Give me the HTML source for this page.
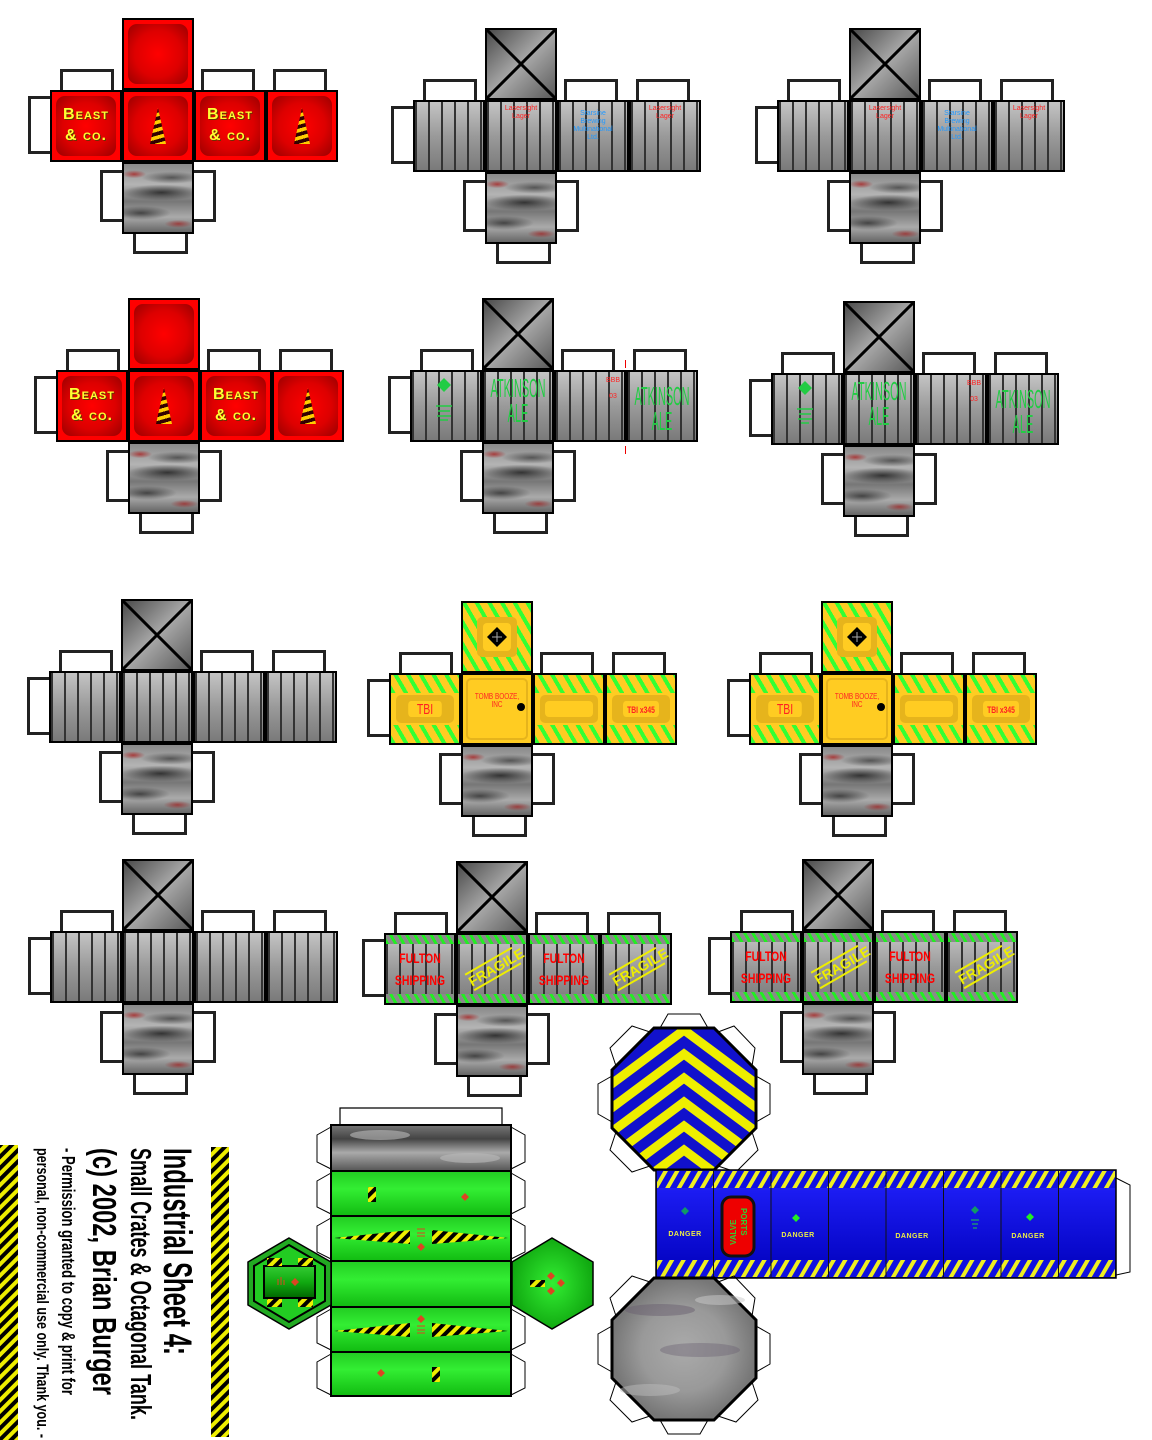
<!DOCTYPE html>
<html><head><meta charset="utf-8">
<style>
html,body{margin:0;padding:0;background:#fff}
body{width:1152px;height:1440px;position:relative;overflow:hidden;font-family:"Liberation Sans",sans-serif}
.c{position:absolute;width:288px;height:72px}
.c>*{position:absolute;box-sizing:border-box;display:block}
.f{width:72px;height:72px;border:2px solid #000;overflow:hidden}
.tt{top:-21px;width:54px;height:23px;border:3px solid #222;border-bottom:none}
.t1{left:10px}.t2{left:151px}.t3{left:223px}
.tl{left:-22px;top:6px;width:24px;height:58px;border:3px solid #222;border-right:none}
.bl{left:50px;top:80px;width:24px;height:52px;border:3px solid #222;border-right:none}
.br{left:142px;top:80px;width:24px;height:52px;border:3px solid #222;border-left:none}
.bb{left:83px;top:142px;width:55px;height:22px;border:3px solid #222;border-top:none}
.p0{left:0;top:0}.p1{left:72px;top:0}.p2{left:144px;top:0}.p3{left:216px;top:0}
.top{left:72px;top:-72px}.bot{left:72px;top:72px}
.rd{background:#f00}
.in{position:absolute;left:4px;top:4px;right:4px;bottom:4px;border-radius:9px;background:radial-gradient(circle,#f00 0,#d00 55%,#900 100%)}
.bt{position:absolute;left:0;right:0;top:12px;text-align:center;color:#ff3;font-weight:bold;font-size:16px;line-height:21px;font-variant:small-caps;letter-spacing:1px;text-shadow:1px 1px 0 #630}
.pl{background:repeating-linear-gradient(90deg,#333 0 2px,transparent 2px 13px),linear-gradient(180deg,#c4c4c4,#9a9a9a 50%,#7a7a7a)}
.x{background:linear-gradient(135deg,#4a4a4a,#a8a8a8 50%,#5a5a5a)}
.mt{background:radial-gradient(ellipse 12px 4px at 15% 15%,rgba(170,20,20,.7),transparent),radial-gradient(ellipse 40px 8px at 55% 42%,#333,transparent),radial-gradient(ellipse 30px 7px at 25% 72%,#444,transparent),radial-gradient(ellipse 14px 4px at 80% 88%,rgba(160,30,30,.7),transparent),radial-gradient(ellipse 30px 6px at 70% 20%,#555,transparent),linear-gradient(180deg,#8a8a8a,#b4b4b4 30%,#777 55%,#aaa 78%,#666)}
.ty{background:repeating-linear-gradient(60deg,#3f3 0 4px,transparent 4px 11px) top/100% 18px no-repeat,repeating-linear-gradient(60deg,#3f3 0 4px,transparent 4px 11px) bottom/100% 18px no-repeat,#fc2}
.tyf{background:repeating-linear-gradient(60deg,#3f3 0 4px,#fc2 4px 11px)}
.ti{position:absolute;left:5px;right:5px;top:20px;bottom:20px;background:#e6b41c;border-radius:5px}
.tj{position:absolute;left:10px;right:10px;top:26px;bottom:26px;background:#fc2;border-radius:4px;color:#f22;text-align:center;font-size:10px;line-height:18px;font-weight:bold}
.fu{background:repeating-linear-gradient(60deg,#2e2 0 3px,#8a8a8a 3px 7px) top/100% 9px no-repeat,repeating-linear-gradient(60deg,#2e2 0 3px,#8a8a8a 3px 7px) bottom/100% 9px no-repeat,repeating-linear-gradient(90deg,#333 0 2px,transparent 2px 13px),linear-gradient(180deg,#c4c4c4,#9a9a9a 50%,#7a7a7a)}
.ful{position:absolute;left:-10px;right:-10px;top:12px;text-align:center;color:#f00;font-weight:bold;font-size:14px;line-height:22px;transform:scaleX(.75)}
.fr{position:absolute;left:8px;top:24px;width:54px;text-align:center;color:#ee0;font-weight:bold;font-size:14px;line-height:16px;border-top:2px solid #ee0;border-bottom:2px solid #ee0;transform:rotate(-30deg)}
.atk{position:absolute;left:-40px;right:-40px;top:4px;text-align:center;color:#2c4;font-size:26px;line-height:25px;transform:scaleX(.42)}
.sm{position:absolute;font-size:7px;line-height:8px;text-align:center;left:0;right:0}
svg.o{position:absolute;left:0;top:0}
</style></head><body>
<svg width="0" height="0" style="position:absolute">
<defs>
<linearGradient id="cs" gradientUnits="userSpaceOnUse" x1="0" y1="0" x2="2" y2="7" spreadMethod="repeat"><stop offset="0" stop-color="#fc0"/><stop offset=".5" stop-color="#fc0"/><stop offset=".5" stop-color="#300"/><stop offset="1" stop-color="#300"/></linearGradient>
</defs></svg>

<!-- Row 1 -->
<div class="c" style="left:50px;top:90px">
<i class="tt t1"></i><i class="tt t2"></i><i class="tt t3"></i><i class="tl"></i><i class="bl"></i><i class="br"></i><i class="bb"></i>
<div class="f top rd"><b class="in"></b></div>
<div class="f p0 rd"><b class="in"></b><span class="bt">Beast<br>&amp; co.</span></div>
<div class="f p1 rd"><b class="in"></b><svg class="o" width="68" height="68"><polygon points="34,16 26,52 42,52" fill="url(#cs)"/></svg></div>
<div class="f p2 rd"><b class="in"></b><span class="bt">Beast<br>&amp; co.</span></div>
<div class="f p3 rd"><b class="in"></b><svg class="o" width="68" height="68"><polygon points="34,16 26,52 42,52" fill="url(#cs)"/></svg></div>
<div class="f bot mt"></div>
</div>

<div class="c" style="left:413px;top:100px">
<i class="tt t1"></i><i class="tt t2"></i><i class="tt t3"></i><i class="tl"></i><i class="bl"></i><i class="br"></i><i class="bb"></i>
<div class="f top x"><svg class="o" width="68" height="68"><path d="M0 0L68 68M68 0L0 68" stroke="#000" stroke-width="3"/></svg></div>
<div class="f p0 pl"></div>
<div class="f p1 pl"><span class="sm" style="top:3px;color:#f22">Lasersight<br>Lager</span></div>
<div class="f p2 pl"><span class="sm" style="top:8px;color:#29f">Starsine<br>Brewing<br>Multinational<br>Ltd.</span></div>
<div class="f p3 pl"><span class="sm" style="top:3px;color:#f22">Lasersight<br>Lager</span></div>
<div class="f bot mt"></div>
</div>

<div class="c" style="left:777px;top:100px">
<i class="tt t1"></i><i class="tt t2"></i><i class="tt t3"></i><i class="tl"></i><i class="bl"></i><i class="br"></i><i class="bb"></i>
<div class="f top x"><svg class="o" width="68" height="68"><path d="M0 0L68 68M68 0L0 68" stroke="#000" stroke-width="3"/></svg></div>
<div class="f p0 pl"></div>
<div class="f p1 pl"><span class="sm" style="top:3px;color:#f22">Lasersight<br>Lager</span></div>
<div class="f p2 pl"><span class="sm" style="top:8px;color:#29f">Starsine<br>Brewing<br>Multinational<br>Ltd.</span></div>
<div class="f p3 pl"><span class="sm" style="top:3px;color:#f22">Lasersight<br>Lager</span></div>
<div class="f bot mt"></div>
</div>

<!-- Row 2 -->
<div class="c" style="left:56px;top:370px">
<i class="tt t1"></i><i class="tt t2"></i><i class="tt t3"></i><i class="tl"></i><i class="bl"></i><i class="br"></i><i class="bb"></i>
<div class="f top rd"><b class="in"></b></div>
<div class="f p0 rd"><b class="in"></b><span class="bt">Beast<br>&amp; co.</span></div>
<div class="f p1 rd"><b class="in"></b><svg class="o" width="68" height="68"><polygon points="34,16 26,52 42,52" fill="url(#cs)"/></svg></div>
<div class="f p2 rd"><b class="in"></b><span class="bt">Beast<br>&amp; co.</span></div>
<div class="f p3 rd"><b class="in"></b><svg class="o" width="68" height="68"><polygon points="34,16 26,52 42,52" fill="url(#cs)"/></svg></div>
<div class="f bot mt"></div>
</div>

<div class="c" style="left:410px;top:370px">
<i class="tt t1"></i><i class="tt t2"></i><i class="tt t3"></i><i class="tl"></i><i class="bl"></i><i class="br"></i><i class="bb"></i>
<div class="f top x"><svg class="o" width="68" height="68"><path d="M0 0L68 68M68 0L0 68" stroke="#000" stroke-width="3"/></svg></div>
<div class="f p0 pl"><svg class="o" width="68" height="68"><polygon points="32,6 39,13 32,20 25,13" fill="#2c4"/><path d="M24 34h16M26 39h12M25 44h14M28 48h8" stroke="#2c4" stroke-width="1.5"/></svg></div>
<div class="f p1 pl"><span class="atk">ATKINSON<br>ALE</span></div>
<div class="f p2 pl"><span class="sm" style="left:50px;right:auto;top:5px;color:#f22">BBB<br><br>03</span></div>
<div class="f p3 pl"><span class="atk" style="top:12px">ATKINSON<br>ALE</span></div>
<div class="f bot mt"></div>
<i style="left:215px;top:-10px;width:1px;height:8px;background:#e00"></i>
<i style="left:215px;top:76px;width:1px;height:8px;background:#e00"></i>
</div>

<div class="c" style="left:771px;top:373px">
<i class="tt t1"></i><i class="tt t2"></i><i class="tt t3"></i><i class="tl"></i><i class="bl"></i><i class="br"></i><i class="bb"></i>
<div class="f top x"><svg class="o" width="68" height="68"><path d="M0 0L68 68M68 0L0 68" stroke="#000" stroke-width="3"/></svg></div>
<div class="f p0 pl"><svg class="o" width="68" height="68"><polygon points="32,6 39,13 32,20 25,13" fill="#2c4"/><path d="M24 34h16M26 39h12M25 44h14M28 48h8" stroke="#2c4" stroke-width="1.5"/></svg></div>
<div class="f p1 pl"><span class="atk">ATKINSON<br>ALE</span></div>
<div class="f p2 pl"><span class="sm" style="left:50px;right:auto;top:5px;color:#f22">BBB<br><br>03</span></div>
<div class="f p3 pl"><span class="atk" style="top:12px">ATKINSON<br>ALE</span></div>
<div class="f bot mt"></div>
</div>

<!-- Row 3 -->
<div class="c" style="left:49px;top:671px">
<i class="tt t1"></i><i class="tt t2"></i><i class="tt t3"></i><i class="tl"></i><i class="bl"></i><i class="br"></i><i class="bb"></i>
<div class="f top x"><svg class="o" width="68" height="68"><path d="M0 0L68 68M68 0L0 68" stroke="#000" stroke-width="3"/></svg></div>
<div class="f p0 pl"></div><div class="f p1 pl"></div><div class="f p2 pl"></div><div class="f p3 pl"></div>
<div class="f bot mt"></div>
</div>

<div class="c" style="left:389px;top:673px">
<i class="tt t1"></i><i class="tt t2"></i><i class="tt t3"></i><i class="tl"></i><i class="bl"></i><i class="br"></i><i class="bb"></i>
<div class="f top tyf"><b style="position:absolute;left:14px;top:14px;width:40px;height:40px;background:#e6b41c;border-radius:5px"></b><b style="position:absolute;left:20px;top:20px;width:28px;height:28px;background:#fc2;border-radius:4px"></b><svg class="o" width="68" height="68"><polygon points="34,24 44,34 34,44 24,34" fill="#000"/><path d="M34 29v10M29 34h10" stroke="#aaa" stroke-width="1"/></svg></div>
<div class="f p0 ty"><b class="ti"></b><span class="tj" style="font-size:15px;font-weight:normal;transform:scaleX(.7)">TBI</span></div>
<div class="f p1" style="background:#fc2"><b style="position:absolute;left:3px;top:3px;right:3px;bottom:3px;border:2px solid #e6b41c;border-radius:5px"></b><span class="sm" style="top:18px;color:#f22;font-size:8px;transform:scaleX(.8)">TOMB BOOZE, INC</span><b style="position:absolute;left:54px;top:28px;width:8px;height:8px;border-radius:50%;background:#000"></b></div>
<div class="f p2 ty"><b class="ti"></b><span class="tj"></span></div>
<div class="f p3 ty"><b class="ti"></b><span class="tj" style="font-size:9px;transform:scaleX(.75)">TBI x345</span></div>
<div class="f bot mt"></div>
</div>

<div class="c" style="left:749px;top:673px">
<i class="tt t1"></i><i class="tt t2"></i><i class="tt t3"></i><i class="tl"></i><i class="bl"></i><i class="br"></i><i class="bb"></i>
<div class="f top tyf"><b style="position:absolute;left:14px;top:14px;width:40px;height:40px;background:#e6b41c;border-radius:5px"></b><b style="position:absolute;left:20px;top:20px;width:28px;height:28px;background:#fc2;border-radius:4px"></b><svg class="o" width="68" height="68"><polygon points="34,24 44,34 34,44 24,34" fill="#000"/><path d="M34 29v10M29 34h10" stroke="#aaa" stroke-width="1"/></svg></div>
<div class="f p0 ty"><b class="ti"></b><span class="tj" style="font-size:15px;font-weight:normal;transform:scaleX(.7)">TBI</span></div>
<div class="f p1" style="background:#fc2"><b style="position:absolute;left:3px;top:3px;right:3px;bottom:3px;border:2px solid #e6b41c;border-radius:5px"></b><span class="sm" style="top:18px;color:#f22;font-size:8px;transform:scaleX(.8)">TOMB BOOZE, INC</span><b style="position:absolute;left:54px;top:28px;width:8px;height:8px;border-radius:50%;background:#000"></b></div>
<div class="f p2 ty"><b class="ti"></b><span class="tj"></span></div>
<div class="f p3 ty"><b class="ti"></b><span class="tj" style="font-size:9px;transform:scaleX(.75)">TBI x345</span></div>
<div class="f bot mt"></div>
</div>

<!-- Row 4 -->
<div class="c" style="left:50px;top:931px">
<i class="tt t1"></i><i class="tt t2"></i><i class="tt t3"></i><i class="tl"></i><i class="bl"></i><i class="br"></i><i class="bb"></i>
<div class="f top x"><svg class="o" width="68" height="68"><path d="M0 0L68 68M68 0L0 68" stroke="#000" stroke-width="3"/></svg></div>
<div class="f p0 pl"></div><div class="f p1 pl"></div><div class="f p2 pl"></div><div class="f p3 pl"></div>
<div class="f bot mt"></div>
</div>

<div class="c" style="left:384px;top:933px">
<i class="tt t1"></i><i class="tt t2"></i><i class="tt t3"></i><i class="tl"></i><i class="bl"></i><i class="br"></i><i class="bb"></i>
<div class="f top x"><svg class="o" width="68" height="68"><path d="M0 0L68 68M68 0L0 68" stroke="#000" stroke-width="3"/></svg></div>
<div class="f p0 fu"><span class="ful">FULTON<br>SHIPPING</span></div>
<div class="f p1 fu"><span class="fr">FRAGILE</span></div>
<div class="f p2 fu"><span class="ful">FULTON<br>SHIPPING</span></div>
<div class="f p3 fu"><span class="fr">FRAGILE</span></div>
<div class="f bot mt"></div>
</div>

<div class="c" style="left:730px;top:931px">
<i class="tt t1"></i><i class="tt t2"></i><i class="tt t3"></i><i class="tl"></i><i class="bl"></i><i class="br"></i><i class="bb"></i>
<div class="f top x"><svg class="o" width="68" height="68"><path d="M0 0L68 68M68 0L0 68" stroke="#000" stroke-width="3"/></svg></div>
<div class="f p0 fu"><span class="ful">FULTON<br>SHIPPING</span></div>
<div class="f p1 fu"><span class="fr">FRAGILE</span></div>
<div class="f p2 fu"><span class="ful">FULTON<br>SHIPPING</span></div>
<div class="f p3 fu"><span class="fr">FRAGILE</span></div>
<div class="f bot mt"></div>
</div>

<!-- Bottom section -->
<svg class="o" width="1152" height="1440" style="pointer-events:none">
<defs>
<pattern id="hz" width="8" height="8" patternUnits="userSpaceOnUse" patternTransform="rotate(45)"><rect width="8" height="8" fill="#ee0"/><rect width="4" height="8" fill="#000"/></pattern>
<pattern id="hzb" width="10" height="10" patternUnits="userSpaceOnUse" patternTransform="rotate(30)"><rect width="10" height="10" fill="#1010e0"/><rect width="4" height="10" fill="#ee2"/></pattern>
<linearGradient id="gr" x1="0" y1="0" x2="0" y2="1"><stop offset="0" stop-color="#2c2"/><stop offset=".4" stop-color="#3e3"/><stop offset="1" stop-color="#1b1"/></linearGradient>
<linearGradient id="gy" x1="0" y1="0" x2="0" y2="1"><stop offset="0" stop-color="#777"/><stop offset=".3" stop-color="#444"/><stop offset=".6" stop-color="#aaa"/><stop offset="1" stop-color="#555"/></linearGradient>
<linearGradient id="bl" x1="0" y1="0" x2="0" y2="1"><stop offset="0" stop-color="#22f"/><stop offset="1" stop-color="#00b"/></linearGradient>
<radialGradient id="gh"><stop offset="0" stop-color="#3e3"/><stop offset="1" stop-color="#1a1"/></radialGradient>
<linearGradient id="gi" x1="0" y1="0" x2="0" y2="1"><stop offset="0" stop-color="#3c3"/><stop offset=".5" stop-color="#1a1"/><stop offset="1" stop-color="#060"/></linearGradient>
<radialGradient id="oc"><stop offset="0" stop-color="#aaa"/><stop offset=".6" stop-color="#999"/><stop offset="1" stop-color="#777"/></radialGradient>
<clipPath id="oct"><polygon points="654,1028 714,1028 756,1070 756,1128 714,1170 654,1170 612,1128 612,1070"/></clipPath>
</defs>

<rect x="0" y="1145" width="18" height="295" fill="url(#hz)"/>
<rect x="211" y="1147" width="18" height="290" fill="url(#hz)"/>
<g font-family="Liberation Sans Narrow, Liberation Sans, sans-serif" font-weight="bold" fill="#000">
<text transform="translate(164,1148) rotate(90)" font-size="40" textLength="207" lengthAdjust="spacingAndGlyphs">Industrial Sheet 4:</text>
<text transform="translate(131,1148) rotate(90)" font-size="29" textLength="272" lengthAdjust="spacingAndGlyphs">Small Crates &amp; Octagonal Tank.</text>
<text transform="translate(93,1148) rotate(90)" font-size="33" textLength="247" lengthAdjust="spacingAndGlyphs">(c) 2002, Brian Burger</text>
<text transform="translate(62,1148) rotate(90)" font-size="18" textLength="247" lengthAdjust="spacingAndGlyphs">- Permission granted to copy &amp; print for</text>
<text transform="translate(37,1148) rotate(90)" font-size="17" textLength="290" lengthAdjust="spacingAndGlyphs">personal, non-commercial use only. Thank you. -</text>
</g>

<polyline points="340,1125 340,1108 502,1108 502,1125" fill="none" stroke="#000" stroke-width="1.2"/>
<g fill="none" stroke="#000" stroke-width="1">
<polyline points="331,1127 317,1135 317,1162 331,1169"/><polyline points="511,1127 525,1135 525,1162 511,1169"/>
<polyline points="331,1173 317,1181 317,1207 331,1214"/><polyline points="511,1173 525,1181 525,1207 511,1214"/>
<polyline points="331,1218 317,1226 317,1252 331,1259"/><polyline points="511,1218 525,1226 525,1252 511,1259"/>
<polyline points="331,1309 317,1317 317,1343 331,1350"/><polyline points="511,1309 525,1317 525,1343 511,1350"/>
<polyline points="331,1354 317,1362 317,1388 331,1395"/><polyline points="511,1354 525,1362 525,1388 511,1395"/>
</g>
<rect x="331" y="1125" width="180" height="46" fill="url(#gy)" stroke="#000" stroke-width="2"/>
<ellipse cx="380" cy="1135" rx="30" ry="5" fill="#bbb" opacity=".6"/><ellipse cx="470" cy="1158" rx="30" ry="5" fill="#bbb" opacity=".6"/>
<rect x="331" y="1171" width="180" height="45" fill="url(#gr)" stroke="#000" stroke-width="2"/>
<rect x="331" y="1216" width="180" height="45" fill="url(#gr)" stroke="#000" stroke-width="2"/>
<rect x="331" y="1261" width="180" height="46" fill="url(#gr)" stroke="#000" stroke-width="2"/>
<rect x="331" y="1307" width="180" height="45" fill="url(#gr)" stroke="#000" stroke-width="2"/>
<rect x="331" y="1352" width="180" height="44" fill="url(#gr)" stroke="#000" stroke-width="2"/>
<rect x="368" y="1187" width="8" height="15" fill="url(#hz)"/>
<polygon points="465,1193 469,1197 465,1201 461,1197" fill="#d42"/>
<polygon points="334,1238 410,1230 410,1244" fill="url(#hz)"/><polygon points="432,1230 432,1244 508,1238" fill="url(#hz)"/>
<path d="M417 1229h8M417 1233h8M417 1236h8" stroke="#d42" stroke-width="1"/>
<polygon points="421,1243 425,1247 421,1251 417,1247" fill="#d42"/>
<polygon points="334,1331 410,1323 410,1337" fill="url(#hz)"/><polygon points="432,1323 432,1337 508,1331" fill="url(#hz)"/>
<polygon points="421,1315 425,1319 421,1323 417,1319" fill="#d42"/>
<path d="M417 1326h8M417 1330h8M417 1333h8" stroke="#d42" stroke-width="1"/>
<polygon points="381,1369 385,1373 381,1377 377,1373" fill="#d42"/>
<rect x="432" y="1367" width="8" height="15" fill="url(#hz)"/>
<polygon points="289,1238 331,1262 331,1305 289,1329 248,1305 248,1262" fill="#2a2" stroke="#000" stroke-width="1.5"/>
<polygon points="289,1245 325,1266 325,1301 289,1322 254,1301 254,1266" fill="#2c2" stroke="#000" stroke-width="2"/>
<rect x="264" y="1266" width="51" height="32" fill="url(#gi)" stroke="#000" stroke-width="2"/>
<rect x="267" y="1258" width="15" height="8" fill="url(#hz)"/><rect x="298" y="1258" width="15" height="8" fill="url(#hz)"/>
<rect x="267" y="1299" width="15" height="8" fill="url(#hz)"/><rect x="298" y="1299" width="15" height="8" fill="url(#hz)"/>
<polygon points="295,1278 299,1282 295,1286 291,1282" fill="#d42"/>
<path d="M278 1279v6M281 1277v8M284 1280v5" stroke="#d42" stroke-width="1"/>
<polygon points="552,1238 593,1262 593,1305 552,1329 512,1305 512,1262" fill="url(#gh)" stroke="#000" stroke-width="1.5"/>
<rect x="530" y="1280" width="15" height="7" fill="url(#hz)"/>
<polygon points="551,1272 555,1276 551,1280 547,1276" fill="#d42"/>
<polygon points="561,1279 565,1283 561,1287 557,1283" fill="#d42"/>
<polygon points="551,1287 555,1291 551,1295 547,1291" fill="#d42"/>

<g fill="none" stroke="#000" stroke-width="1">
<polyline points="660,1028 668,1014 700,1014 708,1028"/>
<polyline points="718,1032 734,1026 755,1048 752,1066"/>
<polyline points="756,1076 770,1084 770,1114 756,1122"/>
<polyline points="752,1132 758,1150 736,1172 718,1166"/>
<polyline points="650,1166 632,1172 610,1150 616,1132"/>
<polyline points="612,1122 598,1114 598,1084 612,1076"/>
<polyline points="616,1066 610,1048 632,1026 650,1032"/>
</g>
<g clip-path="url(#oct)">
<rect x="600" y="1020" width="170" height="160" fill="#11c"/>
<g fill="none" stroke="#ee0" stroke-width="9">
<polyline points="590,1100 684,1030 778,1100"/>
<polyline points="590,1124 684,1054 778,1124"/>
<polyline points="590,1148 684,1078 778,1148"/>
<polyline points="590,1172 684,1102 778,1172"/>
<polyline points="590,1196 684,1126 778,1196"/>
<polyline points="590,1220 684,1150 778,1220"/>
</g>
</g>
<polygon points="654,1028 714,1028 756,1070 756,1128 714,1170 654,1170 612,1128 612,1070" fill="none" stroke="#000" stroke-width="3"/>

<rect x="656" y="1170" width="460" height="108" fill="url(#bl)" stroke="#000" stroke-width="1.5"/>
<rect x="657" y="1171" width="458" height="17" fill="url(#hzb)"/>
<rect x="657" y="1260" width="458" height="17" fill="url(#hzb)"/>
<g stroke="#111" stroke-width="1"><path d="M713.5 1171v106M771 1171v106M828.5 1171v106M886 1171v106M943.5 1171v106M1001 1171v106M1058.5 1171v106"/></g>
<polyline points="1116,1178 1130,1185 1130,1272 1116,1275" fill="none" stroke="#000" stroke-width="1"/>
<g font-family="Liberation Sans, sans-serif" font-weight="bold" font-size="7" fill="#ee4" text-anchor="middle" letter-spacing="0.5">
<text x="685" y="1236">DANGER</text><text x="798" y="1237">DANGER</text><text x="912" y="1238">DANGER</text><text x="1028" y="1238">DANGER</text>
</g>
<polygon points="685,1207 689,1211 685,1215 681,1211" fill="#196"/>
<polygon points="796,1214 800,1218 796,1222 792,1218" fill="#2e2"/>
<polygon points="975,1206 979,1210 975,1214 971,1210" fill="#196"/>
<path d="M971 1220h8M972 1224h6M973 1228h4" stroke="#2c4" stroke-width="1"/>
<polygon points="1030,1213 1034,1217 1030,1221 1026,1217" fill="#2e2"/>
<rect x="722" y="1197" width="32" height="59" rx="9" fill="#e00" stroke="#111" stroke-width="3"/>
<text transform="translate(736,1245) rotate(-90)" font-family="Liberation Sans, sans-serif" font-weight="bold" font-size="8" fill="#3c3">VALVE</text>
<text transform="translate(741,1208) rotate(90)" font-family="Liberation Sans, sans-serif" font-weight="bold" font-size="8" fill="#3c3">PORTS</text>

<g fill="none" stroke="#000" stroke-width="1">
<polyline points="718,1282 734,1276 755,1298 752,1316"/>
<polyline points="756,1326 770,1334 770,1364 756,1372"/>
<polyline points="752,1382 758,1400 736,1422 718,1416"/>
<polyline points="708,1420 700,1434 668,1434 660,1420"/>
<polyline points="650,1416 632,1422 610,1400 616,1382"/>
<polyline points="612,1372 598,1364 598,1334 612,1326"/>
<polyline points="616,1316 610,1298 632,1276 650,1282"/>
</g>
<polygon points="654,1278 714,1278 756,1320 756,1378 714,1420 654,1420 612,1378 612,1320" fill="url(#oc)" stroke="#000" stroke-width="3"/>
<ellipse cx="660" cy="1310" rx="35" ry="6" fill="#6a6070" opacity=".5"/>
<ellipse cx="700" cy="1350" rx="40" ry="7" fill="#6a6070" opacity=".4"/>
<ellipse cx="650" cy="1390" rx="30" ry="6" fill="#bbb" opacity=".5"/>
<ellipse cx="720" cy="1300" rx="25" ry="5" fill="#ccc" opacity=".5"/>
</svg>
</body></html>
